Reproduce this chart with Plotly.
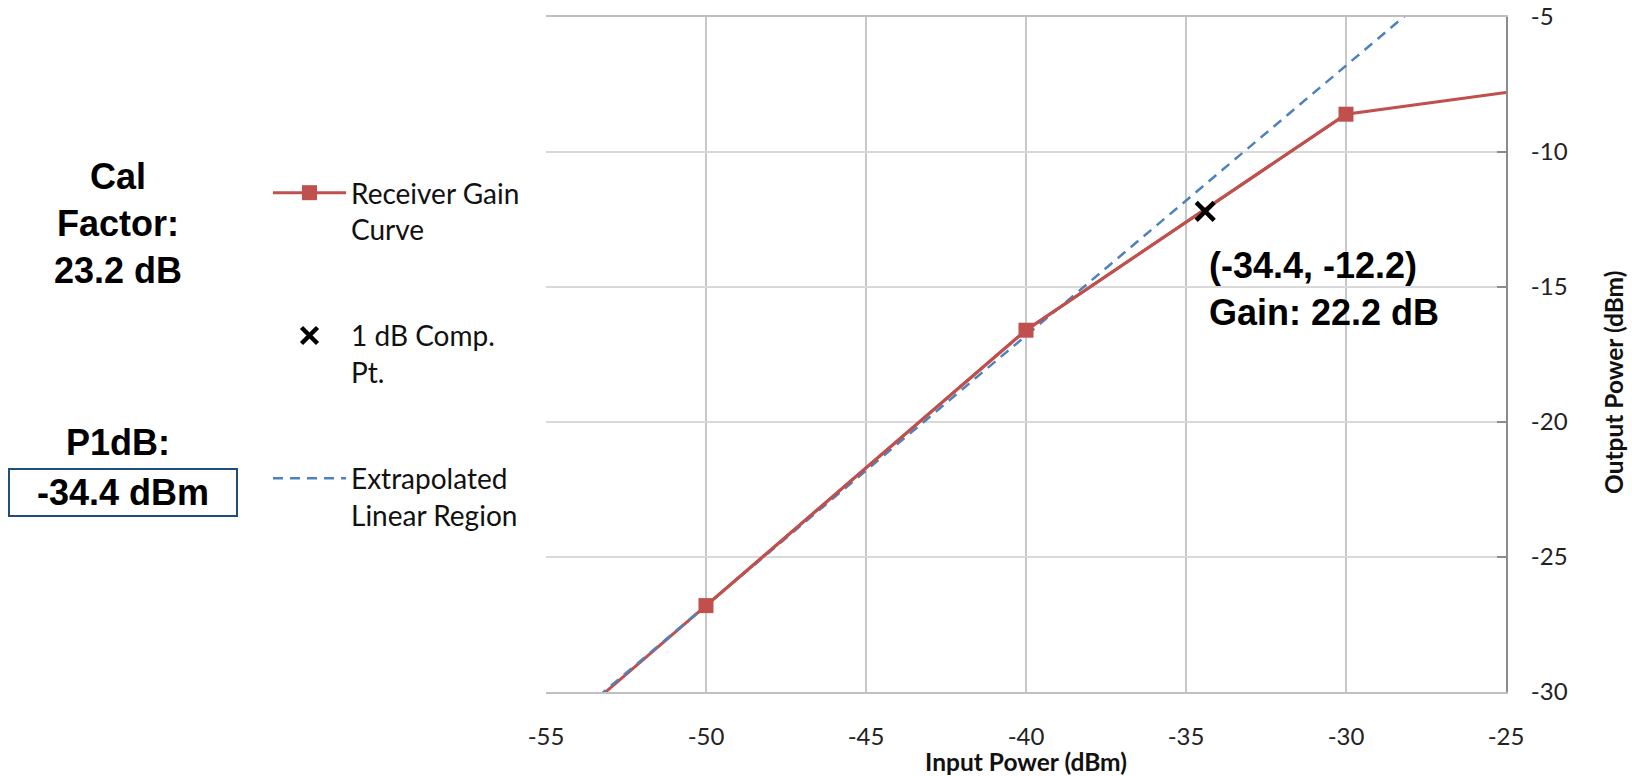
import plotly.graph_objects as go

# ---- data ----
gain_in = [-55, -50, -40, -30, -25]
gain_out = [-31.9, -26.8, -16.6, -8.6, -7.8]
# measured points shown with markers
meas_in = [-50, -40, -30]
meas_out = [-26.8, -16.6, -8.6]

comp_in = [-34.4]
comp_out = [-12.2]

lin_in = [-55, -25]
lin_out = [-31.8, -1.8]

x_ticks = [-55, -50, -45, -40, -35, -30, -25]
y_ticks = [-30, -25, -20, -15, -10, -5]

RED = "#C0504D"
BLUE = "#4F81BD"
TICKFONT = dict(family="Lato, Carlito, sans-serif", size=24, color="#222222")
TITLEFONT = dict(family="Lato, Carlito, sans-serif", size=24.5, color="#111111", weight="bold")

fig = go.Figure()
fig.add_trace(go.Scatter(
    x=gain_in, y=gain_out, mode="lines",
    name="Receiver Gain curve (line)",
    line=dict(color=RED, width=3),
    showlegend=False, hoverinfo="skip",
))
fig.add_trace(go.Scatter(
    x=lin_in, y=lin_out, mode="lines",
    name="Extrapolated<br>Linear Region",
    line=dict(color=BLUE, width=2.5, dash="10px,7px"),
    legendgroup="c", legendrank=3,
))
fig.add_trace(go.Scatter(
    x=meas_in, y=meas_out, mode="lines+markers",
    name="Receiver Gain<br>Curve",
    line=dict(color=RED, width=3),
    marker=dict(symbol="square", size=15, color=RED, opacity=1, line=dict(width=0)),
    legendgroup="a", legendrank=1,
))
fig.add_trace(go.Scatter(
    x=comp_in, y=comp_out, mode="markers",
    name="1 dB Comp.<br>Pt.",
    marker=dict(symbol="x-thin", size=18, line=dict(color="black", width=4.5), color="black"),
    legendgroup="b", legendrank=2,
))

fig.update_xaxes(
    range=[-55, -25], tickvals=x_ticks, ticktext=[str(v) for v in x_ticks],
    showgrid=True, gridcolor="#C8C8C8", gridwidth=1.5,
    showline=True, linecolor="#BFBFBF", linewidth=1.5, mirror=True,
    zeroline=False, tickfont=TICKFONT, ticklabelstandoff=22, automargin=False,
    title=dict(text="Input Power (dBm)", font=TITLEFONT, standoff=4),
)
fig.update_yaxes(
    range=[-30, -5], tickvals=y_ticks, ticktext=[str(v) for v in y_ticks],
    side="right",
    showgrid=True, gridcolor="#D9D9D9", gridwidth=1.5,
    showline=True, linecolor="#8C8C8C", linewidth=2,
    ticks="inside", ticklen=9, tickcolor="#8C8C8C", tickwidth=1.5,
    zeroline=False, tickfont=TICKFONT, ticklabelstandoff=18, automargin=False,
)

W, H = 1632, 776
L, R, T, B = 546, 126, 17, 84
pw, ph = W - L - R, H - T - B


def px(xp):
    return (xp - L) / pw


def py(yp):
    return 1 - (yp - T) / ph


BOLD = dict(family="Liberation Sans, Arial, sans-serif", size=36, color="#000000", weight="bold")
BOLD2 = dict(BOLD, size=36)

annotations = [
    dict(x=px(118), y=py(224), xref="paper", yref="paper", text="Cal<br>Factor:<br>23.2 dB",
         showarrow=False, font=BOLD, align="center", xanchor="center", yanchor="middle"),
    dict(x=px(118), y=py(442), xref="paper", yref="paper", text="P1dB:",
         showarrow=False, font=BOLD, align="center", xanchor="center", yanchor="middle"),
    dict(x=px(123), y=py(492), xref="paper", yref="paper", text="-34.4 dBm",
         showarrow=False, font=BOLD, align="center", xanchor="center", yanchor="middle",
         bordercolor="#1F4E79", borderwidth=2, borderpad=0, width=226, height=45, bgcolor="white"),
    dict(x=-34.35, y=-15.08, xref="x", yref="y", text="(-34.4, -12.2)<br>Gain: 22.2 dB",
         showarrow=False, font=BOLD2, align="left", xanchor="left", yanchor="middle"),
    dict(x=px(1613), y=py(383), xref="paper", yref="paper", text="Output Power (dBm)",
         textangle=-90, showarrow=False, font=TITLEFONT, xanchor="center", yanchor="middle"),
]

fig.update_layout(
    width=W, height=H,
    margin=dict(l=L, r=R, t=T, b=B, pad=0, autoexpand=False),
    paper_bgcolor="white", plot_bgcolor="white",
    annotations=annotations,
    showlegend=True,
    legend=dict(
        x=px(268), y=py(168), xref="paper", yref="paper", xanchor="left", yanchor="top",
        font=dict(family="Lato, Carlito, sans-serif", size=28, color="#111111"),
        traceorder="grouped", tracegroupgap=67, itemsizing="trace", itemwidth=73,
        valign="top", bgcolor="rgba(0,0,0,0)",
    ),
)

fig.write_html("out.html")
